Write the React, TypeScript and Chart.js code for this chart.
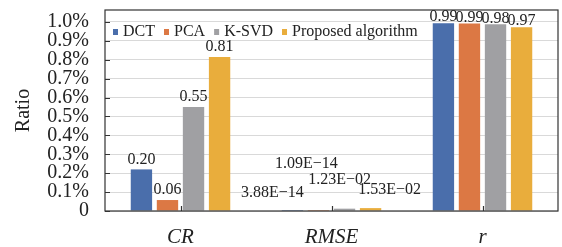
import React, { useEffect, useRef } from "react";
import { Chart, registerables } from "chart.js";

Chart.register(...registerables);

const categories = ["CR", "RMSE", "r"];
const seriesNames = ["DCT", "PCA", "K-SVD", "Proposed algorithm"];
const dctValues = [0.22, 3.88e-14, 0.993];
const pcaValues = [0.058, 1.09e-14, 0.992];
const ksvdValues = [0.55, 0.0123, 0.987];
const proposedValues = [0.815, 0.0153, 0.972];
const dctLabels = ["0.20", "3.88E\u221214", "0.99"];
const pcaLabels = ["0.06", "1.09E\u221214", "0.99"];
const ksvdLabels = ["0.55", "1.23E\u221202", "0.98"];
const proposedLabels = ["0.81", "1.53E\u221202", "0.97"];
const yTickValues = [0, 0.1, 0.2, 0.3, 0.4, 0.5, 0.6, 0.7, 0.8, 0.9, 1.0];

const colors = ["#4a6eab", "#dc7844", "#a0a0a3", "#e9ad3c"];
// label nudges [dx, dy] relative to default position (centered, 10px above bar top)
const labelNudge: number[][][] = [
  [[0, 0], [-20, -8], [0, 4]],
  [[0, 0], [-12, -37], [0, 4]],
  [[0, 0], [-5, -19], [0, 4]],
  [[0, 0], [19, -8], [0, 4]],
];

const SERIF = "'Liberation Serif', 'Times New Roman', serif";

const overlayPlugin = {
  id: "overlay",
  afterDatasetsDraw(chart: any) {
    const { ctx, chartArea } = chart;
    const { left, right, top, bottom } = chartArea;
    ctx.save();
    // border
    ctx.strokeStyle = "#333333";
    ctx.lineWidth = 1.2;
    ctx.strokeRect(left, top, right - left, bottom - top);
    // y ticks inward
    const ys = chart.scales.y;
    ctx.beginPath();
    yTickValues.forEach((v) => {
      const py = Math.round(ys.getPixelForValue(v)) + 0.5;
      ctx.moveTo(left, py);
      ctx.lineTo(left + 5, py);
    });
    // x ticks inward at category centers
    const xs = chart.scales.x;
    categories.forEach((_, i) => {
      const px = Math.round(xs.getPixelForValue(i)) + 0.5;
      ctx.moveTo(px, bottom);
      ctx.lineTo(px, bottom - 5);
    });
    ctx.stroke();

    // data labels
    ctx.fillStyle = "#222222";
    ctx.font = "16px " + SERIF;
    ctx.textAlign = "center";
    ctx.textBaseline = "middle";
    chart.data.datasets.forEach((ds: any, di: number) => {
      const meta = chart.getDatasetMeta(di);
      meta.data.forEach((bar: any, i: number) => {
        const n = labelNudge[di][i];
        ctx.fillText(ds.valueLabels[i], bar.x + n[0], bar.y - 10 + n[1]);
      });
    });

    // legend
    ctx.font = "16px " + SERIF;
    ctx.textAlign = "left";
    let x = left + 8;
    const ly = top + 22;
    chart.data.datasets.forEach((ds: any) => {
      ctx.fillStyle = ds.backgroundColor;
      ctx.fillRect(x, ly - 3, 5, 6);
      x += 10;
      ctx.fillStyle = "#222222";
      ctx.fillText(ds.label, x, ly);
      x += ctx.measureText(ds.label).width + 9;
    });
    ctx.restore();
  },
};

export default function App() {
  const canvasRef = useRef<HTMLCanvasElement | null>(null);

  useEffect(() => {
    if (!canvasRef.current) return;
    const valueSets = [dctValues, pcaValues, ksvdValues, proposedValues];
    const labelSets = [dctLabels, pcaLabels, ksvdLabels, proposedLabels];
    const chart = new Chart(canvasRef.current, {
      type: "bar",
      data: {
        labels: categories,
        datasets: seriesNames.map((name, i) => ({
          label: name,
          data: valueSets[i],
          valueLabels: labelSets[i],
          backgroundColor: colors[i],
          borderWidth: 0,
          categoryPercentage: 0.69,
          barPercentage: 0.82,
        })) as any,
      },
      options: {
        animation: false,
        responsive: false,
        maintainAspectRatio: false,
        layout: { padding: { left: 0, top: 10, right: 4, bottom: 0 } },
        plugins: {
          legend: { display: false },
          tooltip: { enabled: false },
        },
        scales: {
          x: {
            grid: { display: false, drawTicks: false },
            border: { display: false },
            ticks: {
              padding: 14,
              color: "#222222",
              font: { family: SERIF, size: 21, style: "italic" },
            },
            afterFit: (s: any) => {
              s.height = 36;
              s.paddingLeft = 0;
              s.paddingRight = 0;
            },
          },
          y: {
            min: 0,
            max: 1.063,
            grid: { color: "#d9d9d9", drawTicks: false, lineWidth: 1 },
            border: { display: false },
            afterBuildTicks: (s: any) => {
              s.ticks = yTickValues.map((v) => ({ value: v }));
            },
            ticks: {
              autoSkip: false,
              padding: 16,
              color: "#222222",
              font: { family: SERIF, size: 20 },
              callback: (v: any) => (Number(v) === 0 ? "0" : Number(v).toFixed(1) + "%"),
            },
            title: {
              display: true,
              text: "Ratio",
              color: "#222222",
              font: { family: SERIF, size: 20 },
              padding: { top: 12, bottom: 0 },
            },
            afterFit: (s: any) => {
              s.width = 105;
              s.paddingTop = 0;
              s.paddingBottom = 0;
            },
          },
        },
      },
      plugins: [overlayPlugin],
    });
    return () => chart.destroy();
  }, []);

  return (
    <div style={{ position: "fixed", left: 0, top: 0, width: 562, height: 247, background: "#ffffff" }}>
      <canvas ref={canvasRef} width={562} height={247} style={{ width: 562, height: 247 }} />
    </div>
  );
}
